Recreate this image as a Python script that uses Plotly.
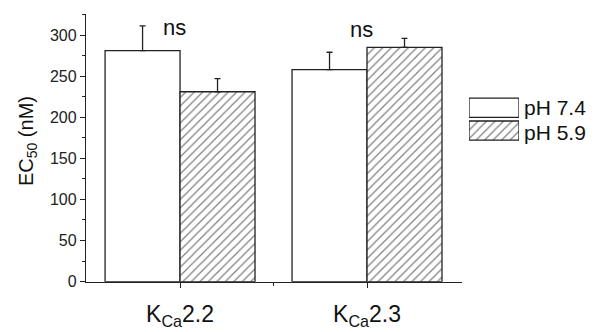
import plotly.graph_objects as go

categories = ["K<sub>Ca</sub>2.2", "K<sub>Ca</sub>2.3"]
series_names = ["pH 7.4", "pH 5.9"]
ph74 = [281, 258]
ph74_err = [30, 21]
ph59 = [231, 285]
ph59_err = [16, 11]
sig_labels = ["ns", "ns"]
y_ticks = [0, 50, 100, 150, 200, 250, 300]

W, H = 594, 332
L, R, T, B = 86, 462, 14, 289.5

xs = list(range(len(categories)))
line_c = "#222222"
font_fam = "Liberation Sans, Arial, sans-serif"

fig = go.Figure()
fig.add_trace(go.Bar(
    x=xs, y=ph74, name=series_names[0],
    marker=dict(color="white", line=dict(color=line_c, width=1.3)),
    error_y=dict(type="data", symmetric=False, array=ph74_err, arrayminus=[0]*len(ph74),
                 color=line_c, thickness=1.3, width=3),
    showlegend=False,
))
fig.add_trace(go.Bar(
    x=xs, y=ph59, name=series_names[1],
    marker=dict(color="white", line=dict(color=line_c, width=1.3),
                pattern=dict(shape="/", size=6, solidity=0.2, fgcolor="#000000", bgcolor="white")),
    error_y=dict(type="data", symmetric=False, array=ph59_err, arrayminus=[0]*len(ph59),
                 color=line_c, thickness=1.3, width=3),
    showlegend=False,
))

# custom legend swatches
fig.add_trace(go.Bar(
    x=[1, 1], y=[1, 0], orientation="h", width=[0.84, 0.84], base=0,
    xaxis="x2", yaxis="y2",
    marker=dict(color="white", line=dict(color=line_c, width=1.3),
                pattern=dict(shape=["", "/"], size=6, solidity=0.2, fgcolor="#000000", bgcolor="white")),
    showlegend=False, hoverinfo="skip",
))

annotations = []
for i, s in enumerate(sig_labels):
    annotations.append(dict(x=xs[i] - 0.03, y=309 - i * 2, xref="x", yref="y", text=s, showarrow=False,
                            font=dict(size=22, color="#111"), xanchor="center", yanchor="middle"))
for j, nm in enumerate(series_names):
    annotations.append(dict(x=522 / W, y=(H - (110 + j * 26)) / H, xref="paper", yref="paper",
                            text=nm, showarrow=False, xanchor="left", yanchor="middle",
                            font=dict(size=21, color="#111")))
annotations.append(dict(x=27 / W, y=(H - 145) / H, xref="paper", yref="paper",
                        text="EC<sub>50</sub> (nM)", textangle=-90, showarrow=False,
                        xanchor="center", yanchor="middle", font=dict(size=20, color="#111")))

fig.update_layout(
    width=W, height=H,
    margin=dict(l=0, r=0, t=0, b=0),
    paper_bgcolor="white", plot_bgcolor="white",
    barmode="group", bargap=0.198, bargroupgap=0,
    font=dict(family=font_fam, color="#222"),
    xaxis=dict(domain=[L / W, R / W], range=[-0.503, 1.508], tickvals=xs, ticktext=categories,
               showline=True, linecolor=line_c, linewidth=1.3, ticks="outside", ticklen=5,
               tickcolor=line_c, tickwidth=1.3, showgrid=False, zeroline=False,
               tickfont=dict(size=23, color="#111"), ticklabelstandoff=7,
               minor=dict(tickvals=[0.5], ticks="outside", ticklen=3, tickcolor=line_c, tickwidth=1)),
    yaxis=dict(domain=[(H - B) / H, (H - T) / H], range=[0, 326], tickvals=y_ticks,
               showline=True, linecolor=line_c, linewidth=1.3, ticks="outside", ticklen=5,
               tickcolor=line_c, tickwidth=1.3, showgrid=False, zeroline=False,
               tickfont=dict(size=16, color="#222"),
               minor=dict(dtick=25, ticks="outside", ticklen=3, tickcolor=line_c, tickwidth=1)),
    xaxis2=dict(domain=[469 / W, 519 / W], range=[0, 1], visible=False, anchor="y2"),
    yaxis2=dict(domain=[(H - 146) / H, (H - 99) / H], range=[-0.5, 1.5], visible=False, anchor="x2"),
    annotations=annotations,
)

fig.write_html("out.html")
